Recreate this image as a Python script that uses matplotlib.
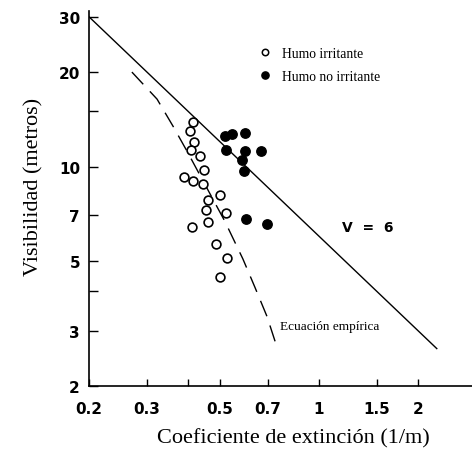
import matplotlib
matplotlib.use("Agg")
import matplotlib.pyplot as plt
from matplotlib.lines import Line2D
import numpy as np

# Extinction coefficient (1/m) and visibility (m) for irritant smoke
irritant_sigma = [0.415, 0.406, 0.417, 0.408, 0.435, 0.448, 0.390, 0.415, 0.445,
                  0.500, 0.459, 0.453, 0.521, 0.461, 0.410, 0.485, 0.524, 0.500]
irritant_v = [13.9, 13.0, 12.0, 11.3, 10.8, 9.74, 9.24, 8.98, 8.78,
              8.12, 7.83, 7.29, 7.11, 6.68, 6.42, 5.67, 5.11, 4.45]

# Non-irritant smoke
nonirritant_sigma = [0.518, 0.545, 0.596, 0.521, 0.596, 0.582, 0.667, 0.593, 0.599, 0.697]
nonirritant_v = [12.5, 12.7, 12.8, 11.3, 11.25, 10.5, 11.2, 9.65, 6.80, 6.56]

# V * sigma = 6 relation
line_constant = 6.0
line_sigma = np.array([0.2, 2.28])
line_v = line_constant / line_sigma

# Empirical equation curve
empirical_sigma = [0.270, 0.322, 0.360, 0.397, 0.518, 0.587, 0.639, 0.695, 0.746]
empirical_v = [20.0, 16.4, 13.45, 11.2, 6.68, 5.08, 4.12, 3.33, 2.65]

x_ticks = [0.2, 0.3, 0.4, 0.5, 0.7, 1, 1.5, 2, 3]
x_ticklabels = ["0.2", "0.3", "", "0.5", "0.7", "1", "1.5", "2", "3"]
y_ticks = [2, 3, 4, 5, 7, 10, 15, 20, 30]
y_ticklabels = ["2", "3", "", "5", "7", "10", "", "20", "30"]

serif = ["Liberation Serif", "DejaVu Serif"]

W, H = 472, 452
fig = plt.figure(figsize=(W / 100, H / 100), dpi=100)
ax = fig.add_axes([89 / W, 65 / H, 387 / W, 375 / H])
ax.set_xscale("log")
ax.set_yscale("log")
ax.set_xlim(0.2, 3.0)
ax.set_ylim(2, 31.3)

ax.plot(line_sigma, line_v, color="black", lw=1.0, zorder=2)
ax.plot(empirical_sigma, empirical_v, color="black", lw=1.0,
        dashes=(12, 7), zorder=2)

ax.scatter(irritant_sigma, irritant_v, s=40, facecolor="white",
           edgecolor="black", linewidths=1.2, zorder=3)
ax.scatter(nonirritant_sigma, nonirritant_v, s=46, facecolor="black",
           edgecolor="black", linewidths=1.0, zorder=3)

for side in ("top", "right"):
    ax.spines[side].set_visible(False)
for side in ("left", "bottom"):
    ax.spines[side].set_linewidth(1.2)

ax.xaxis.set_minor_locator(matplotlib.ticker.NullLocator())
ax.yaxis.set_minor_locator(matplotlib.ticker.NullLocator())
ax.set_xticks(x_ticks)
ax.set_xticklabels(x_ticklabels)
ax.set_yticks(y_ticks)
ax.set_yticklabels(y_ticklabels)
ax.tick_params(axis="x", direction="in", length=5, width=1.0, pad=11.0)
ax.tick_params(axis="y", direction="in", length=6.5, width=1.0, pad=6.5)
for lab in ax.get_xticklabels() + ax.get_yticklabels():
    lab.set_fontfamily("DejaVu Sans")
    lab.set_fontweight("bold")
    lab.set_fontsize(11)

ax.set_xlabel("Coeficiente de extinción (1/m)", fontsize=16, family=serif)
ax.xaxis.set_label_coords(0.527, -0.113)
ax.set_ylabel("Visibilidad (metros)", fontsize=16, family=serif)
ax.yaxis.set_label_coords(-0.118, 0.533)

ax.text(1.175, 6.40, "V  =  6", fontsize=10, fontweight="bold",
        family="DejaVu Sans", ha="left", va="center")
ax.text(0.761, 3.11, "Ecuación empírica", fontsize=9.5, family=serif,
        ha="left", va="center")

handles = [
    Line2D([], [], ls="none", marker="o", markersize=4.6,
           markerfacecolor="white", markeredgecolor="black", markeredgewidth=1.1),
    Line2D([], [], ls="none", marker="o", markersize=5.2,
           markerfacecolor="black", markeredgecolor="black"),
]
ax.legend(handles, ["Humo irritante", "Humo no irritante"],
          loc="upper left", bbox_to_anchor=(258.5 / W, 1 - 48 / H),
          bbox_transform=fig.transFigure, frameon=False,
          prop={"family": serif, "size": 9.8}, handlelength=1.0,
          handletextpad=0.75, labelspacing=0.72, borderpad=0,
          borderaxespad=0)

fig.savefig("out.png", dpi=100)
